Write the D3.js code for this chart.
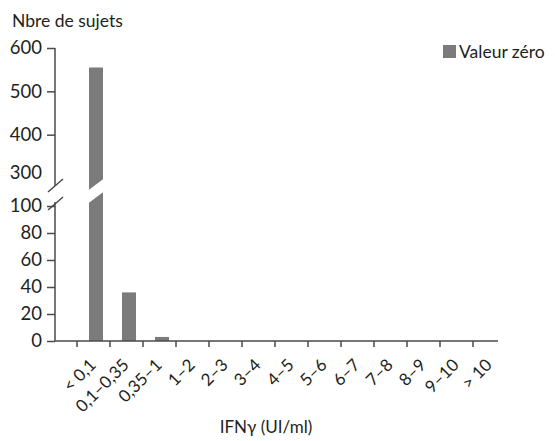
<!DOCTYPE html>
<html>
<head>
<meta charset="utf-8">
<script src="https://cdn.jsdelivr.net/npm/d3@7"></script>
<style>
  body { margin: 0; background: #fff; }
  svg text { font-family: Futura, "Century Gothic", Lato, sans-serif; fill: #231f20; }
</style>
</head>
<body>
<div id="chart"></div>
<script>
// data
const categories = ["< 0,1", "0,1–0,35", "0,35–1", "1–2", "2–3", "3–4", "4–5", "5–6", "6–7", "7–8", "8–9", "9–10", "> 10"];
const valeurZero = [555, 36, 3, 0, 0, 0, 0, 0, 0, 0, 0, 0, 0];
const lowerTicks = [0, 20, 40, 60, 80, 100];
const upperTicks = [300, 400, 500, 600];
const seriesName = "Valeur zéro";
const yTitle = "Nbre de sujets";
const xTitle = "IFNγ (UI/ml)";

var width = 555, height = 441;
var axisX = 55, axisEnd = 498;
var barColor = "#7b7b7b", axisColor = "#4a4a4a";

var svg = d3.select("#chart")
    .append("svg")
        .attr("width", width)
        .attr("height", height);

var x = d3.scaleBand()
    .domain(categories)
    .range([77, 77 + 33 * categories.length]);

// broken y axis: two linear pieces
var yLow = d3.scaleLinear().domain([0, 100]).range([341, 206]);
var yHigh = d3.scaleLinear().domain([300, 600]).range([178, 48]);
var y = function(v) { return v > 100 ? yHigh(v) : yLow(v); };

// bars
svg.append("g")
    .selectAll("rect")
    .data(valeurZero)
    .join("rect")
        .attr("x", function(d, i) { return x(categories[i]) + 12; })
        .attr("width", 14)
        .attr("y", function(d) { return y(d); })
        .attr("height", function(d) { return yLow(0) - y(d); })
        .attr("fill", barColor);

// white gap across bars that go through the break
svg.append("g")
    .selectAll("path")
    .data(valeurZero.filter(function(d) { return d > 100; }))
    .join("path")
        .attr("d", function(d, i) {
            var x0 = x(categories[valeurZero.indexOf(d)]) + 9, x1 = x0 + 20;
            return "M" + x0 + "," + 192 + "L" + x1 + "," + 177 + "L" + x1 + "," + 190 + "L" + x0 + "," + 205 + "Z";
        })
        .attr("fill", "#fff");

// y axis, lower part
var gLow = svg.append("g")
    .attr("transform", "translate(" + axisX + ",0)")
    .call(d3.axisLeft(yLow).tickValues(lowerTicks).tickSize(8).tickSizeOuter(0).tickPadding(5));
gLow.select(".domain").remove();

// y axis, upper part
var gHigh = svg.append("g")
    .attr("transform", "translate(" + axisX + ",0)")
    .call(d3.axisLeft(yHigh).tickValues(upperTicks).tickSize(8).tickSizeOuter(0).tickPadding(5));
gHigh.select(".domain").remove();
gHigh.selectAll(".tick").filter(function(d) { return d === 300; }).select("line").remove();
gHigh.selectAll(".tick").filter(function(d) { return d === 300; }).attr("transform", "translate(0,173)");

svg.selectAll(".tick line").attr("stroke", axisColor).attr("stroke-width", 1.5);
svg.selectAll(".tick text").attr("font-size", 18.5).style("font-family", null).attr("fill", "#231f20");

// axis line pieces + break marks
svg.append("line")
    .attr("x1", axisX).attr("x2", axisX)
    .attr("y1", yHigh(600)).attr("y2", 186)
    .attr("stroke", axisColor).attr("stroke-width", 1.5);
svg.append("line")
    .attr("x1", axisX).attr("x2", axisX)
    .attr("y1", yLow(0)).attr("y2", 202)
    .attr("stroke", axisColor).attr("stroke-width", 1.5);
[192, 210].forEach(function(b) {
    svg.append("line")
        .attr("x1", axisX - 7).attr("y1", b)
        .attr("x2", axisX + 8).attr("y2", b - 13)
        .attr("stroke", axisColor).attr("stroke-width", 1.5);
});

// x axis
svg.append("line")
    .attr("x1", axisX).attr("x2", axisEnd)
    .attr("y1", yLow(0)).attr("y2", yLow(0))
    .attr("stroke", axisColor).attr("stroke-width", 1.5);
svg.append("g")
    .selectAll("line")
    .data(categories)
    .join("line")
        .attr("x1", function(d) { return x(d); })
        .attr("x2", function(d) { return x(d); })
        .attr("y1", yLow(0))
        .attr("y2", yLow(0) + 6)
        .attr("stroke", axisColor).attr("stroke-width", 1.5);
svg.append("g")
    .selectAll("text")
    .data(categories)
    .join("text")
        .attr("transform", function(d) { return "translate(" + (x(d) + 20) + "," + 366 + ")rotate(-45)"; })
        .attr("text-anchor", "end")
        .attr("font-size", 17)
        .text(function(d) { return d; });

// titles
svg.append("text")
    .attr("x", 12).attr("y", 27)
    .attr("font-size", 17.5)
    .text(yTitle);
svg.append("text")
    .attr("x", 266).attr("y", 433)
    .attr("text-anchor", "middle")
    .attr("font-size", 17)
    .text(xTitle);

// legend
var legend = svg.append("g").attr("transform", "translate(443,45)");
legend.append("rect").attr("width", 13).attr("height", 13).attr("fill", barColor);
legend.append("text").attr("x", 16).attr("y", 13).attr("font-size", 17.5).text(seriesName);
</script>
</body>
</html>
